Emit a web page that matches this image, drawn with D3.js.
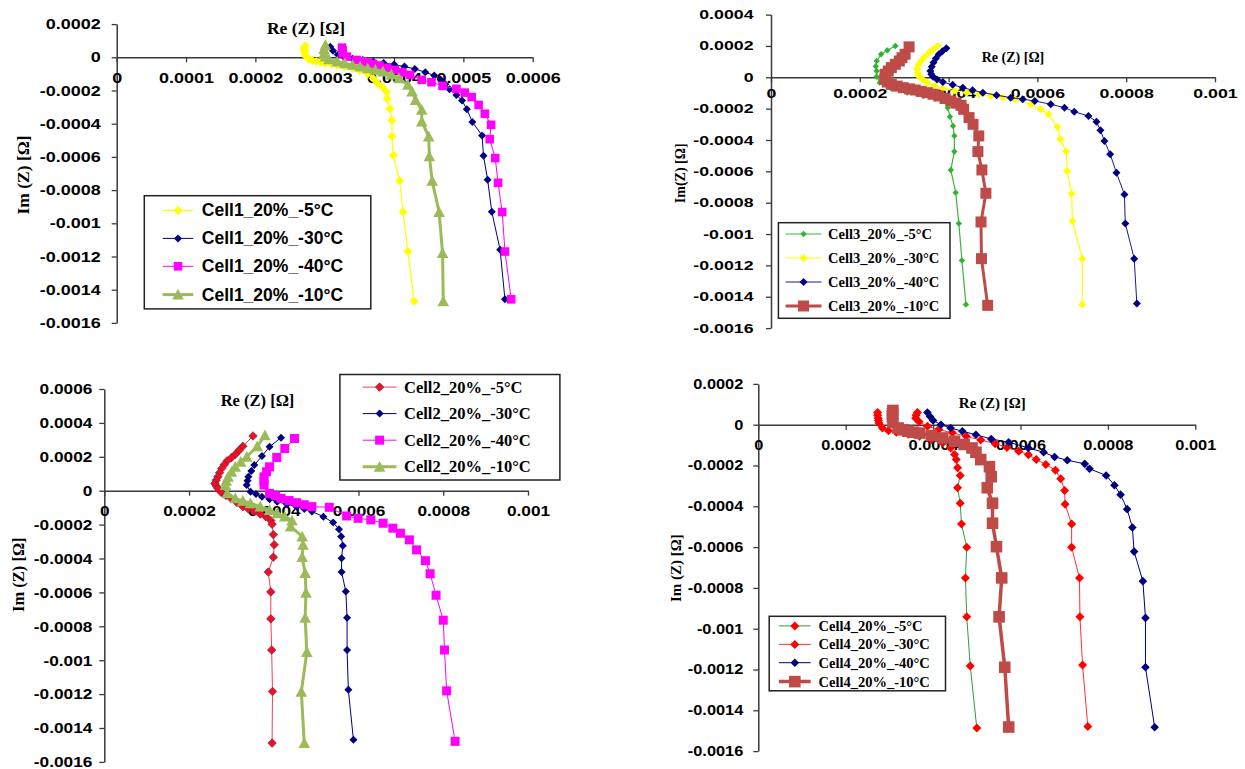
<!DOCTYPE html>
<html><head><meta charset="utf-8">
<script src="https://cdn.jsdelivr.net/npm/d3@7"></script>
<style>html,body{margin:0;padding:0;background:#fff;}svg{display:block;}</style>
</head><body>
<svg id="chart" width="1245" height="769"></svg>
<script>
// ---------------- DATA ----------------
const xTicks1 = [0, 0.0001, 0.0002, 0.0003, 0.0004, 0.0005, 0.0006];
const xTickLabels1 = ["0", "0.0001", "0.0002", "0.0003", "0.0004", "0.0005", "0.0006"];
const xTicksB = [0, 0.0002, 0.0004, 0.0006, 0.0008, 0.001];
const xTickLabelsB = ["0", "0.0002", "0.0004", "0.0006", "0.0008", "0.001"];
const yTicks1 = [0.0002, 0, -0.0002, -0.0004, -0.0006, -0.0008, -0.001, -0.0012, -0.0014, -0.0016];
const yTickLabels1 = ["0.0002", "0", "-0.0002", "-0.0004", "-0.0006", "-0.0008", "-0.001", "-0.0012", "-0.0014", "-0.0016"];
const yTicks2 = [0.0006, 0.0004, 0.0002, 0, -0.0002, -0.0004, -0.0006, -0.0008, -0.001, -0.0012, -0.0014, -0.0016];
const yTickLabels2 = ["0.0006", "0.0004", "0.0002", "0", "-0.0002", "-0.0004", "-0.0006", "-0.0008", "-0.001", "-0.0012", "-0.0014", "-0.0016"];
const yTicks3 = [0.0004, 0.0002, 0, -0.0002, -0.0004, -0.0006, -0.0008, -0.001, -0.0012, -0.0014, -0.0016];
const yTickLabels3 = ["0.0004", "0.0002", "0", "-0.0002", "-0.0004", "-0.0006", "-0.0008", "-0.001", "-0.0012", "-0.0014", "-0.0016"];
const yTicks4 = yTicks1;
const yTickLabels4 = yTickLabels1;

const legend1 = ["Cell1_20%_-5°C", "Cell1_20%_-30°C", "Cell1_20%_-40°C", "Cell1_20%_-10°C"];
const legend2 = ["Cell2_20%_-5°C", "Cell2_20%_-30°C", "Cell2_20%_-40°C", "Cell2_20%_-10°C"];
const legend3 = ["Cell3_20%_-5°C", "Cell3_20%_-30°C", "Cell3_20%_-40°C", "Cell3_20%_-10°C"];
const legend4 = ["Cell4_20%_-5°C", "Cell4_20%_-30°C", "Cell4_20%_-40°C", "Cell4_20%_-10°C"];

// Cell 1  [Re(Z), Im(Z)]
const cell1_m5 = [[0.000272,0.00007],[0.000270,0.000055],[0.000271,0.000044],[0.000271,0.00003],[0.000272,0.000014],[0.000274,0.000002],[0.000277,-0.000012],[0.000282,-0.00002],[0.000288,-0.000026],[0.000295,-0.000031],[0.000301,-0.000036],[0.00031,-0.000041],[0.000318,-0.000046],[0.000328,-0.000055],[0.00034,-0.000066],[0.00035,-0.00008],[0.000362,-0.0001],[0.00037,-0.000128],[0.000376,-0.000156],[0.000383,-0.00018],[0.000389,-0.000207],[0.00039,-0.00025],[0.000394,-0.00031],[0.000397,-0.00038],[0.000397,-0.000477],[0.000399,-0.00059],[0.000408,-0.000744],[0.000413,-0.000932],[0.00042,-0.00117],[0.000429,-0.00147]];
const cell1_m30 = [[0.000308,0.000064],[0.000312,0.00004],[0.000319,0.000016],[0.000328,0.000002],[0.00034,-0.000008],[0.000355,-0.000016],[0.00037,-0.000026],[0.000385,-0.000034],[0.0004,-0.000044],[0.000415,-0.000056],[0.00043,-0.00007],[0.000445,-0.00009],[0.000458,-0.00011],[0.000467,-0.000134],[0.000474,-0.000162],[0.00048,-0.000192],[0.00049,-0.000227],[0.000498,-0.00026],[0.000505,-0.000313],[0.000513,-0.00039],[0.000527,-0.000471],[0.000529,-0.000593],[0.000535,-0.000738],[0.000541,-0.00093],[0.000553,-0.00116],[0.00056,-0.001458]];
const cell1_m40 = [[0.000325,0.000058],[0.000326,0.00004],[0.000326,0.000024],[0.000332,0.000004],[0.000346,-0.000016],[0.000354,-0.000024],[0.000362,-0.000032],[0.00037,-0.000041],[0.000379,-0.00005],[0.00039,-0.000063],[0.000401,-0.000076],[0.000412,-0.00009],[0.000423,-0.000106],[0.00044,-0.000136],[0.000454,-0.00015],[0.00047,-0.000172],[0.00049,-0.00019],[0.000502,-0.000213],[0.000512,-0.00024],[0.000522,-0.000287],[0.000531,-0.00034],[0.00054,-0.000407],[0.000538,-0.000493],[0.000546,-0.000607],[0.00055,-0.000756],[0.000556,-0.000932],[0.00056,-0.00117],[0.000569,-0.001458]];
const cell1_m10 = [[0.000301,0.000074],[0.000299,0.00005],[0.000299,0.000024],[0.000301,0.000005],[0.000306,-0.000012],[0.000318,-0.000026],[0.000329,-0.000036],[0.00034,-0.000046],[0.000351,-0.000056],[0.000362,-0.000066],[0.000373,-0.000076],[0.000384,-0.000086],[0.000396,-0.000104],[0.000407,-0.000126],[0.00042,-0.000166],[0.000426,-0.000207],[0.000431,-0.000257],[0.00044,-0.000317],[0.00044,-0.000387],[0.00045,-0.000477],[0.000451,-0.000597],[0.000455,-0.000744],[0.000465,-0.000932],[0.00047,-0.00118],[0.000471,-0.00147]];

// Cell 3
const cell3_m5 = [[0.00028,0.0002],[0.000262,0.000172],[0.000248,0.000147],[0.000238,0.000104],[0.000236,0.00007],[0.000238,0.00004],[0.000238,0.000004],[0.000245,-0.000034],[0.000271,-0.000072],[0.000307,-0.000098],[0.000343,-0.000119],[0.00037,-0.000136],[0.000392,-0.000151],[0.000398,-0.000194],[0.000403,-0.000251],[0.00041,-0.00031],[0.000413,-0.000374],[0.000413,-0.000474],[0.000405,-0.000591],[0.000416,-0.000736],[0.000423,-0.000932],[0.00043,-0.001168],[0.000439,-0.001449]];
const cell3_m30 = [[0.000376,0.0002],[0.000366,0.00018],[0.000356,0.000157],[0.000346,0.00013],[0.000338,0.000104],[0.000332,0.000078],[0.000329,0.000051],[0.00033,0.000026],[0.000334,0.000004],[0.000342,-0.000016],[0.000352,-0.000034],[0.000368,-0.000054],[0.000387,-0.000072],[0.000414,-0.000086],[0.000441,-0.000098],[0.000468,-0.000108],[0.000495,-0.000119],[0.000522,-0.000129],[0.000549,-0.00014],[0.000585,-0.000172],[0.000607,-0.000204],[0.000625,-0.000236],[0.000645,-0.000317],[0.000652,-0.000396],[0.000665,-0.000474],[0.000667,-0.000598],[0.000677,-0.000743],[0.000679,-0.000917],[0.000701,-0.001157],[0.000701,-0.001449]];
const cell3_m40 = [[0.000395,0.000185],[0.000386,0.000166],[0.000378,0.000147],[0.000371,0.00012],[0.000366,0.000094],[0.000362,0.000067],[0.000359,0.00004],[0.000361,0.00002],[0.000365,0.000004],[0.000374,-0.000014],[0.000387,-0.00003],[0.000409,-0.000048],[0.000432,-0.000066],[0.000454,-0.000082],[0.000477,-0.000098],[0.000508,-0.000114],[0.00054,-0.00013],[0.000567,-0.00014],[0.000594,-0.000151],[0.00063,-0.000172],[0.000661,-0.000194],[0.000683,-0.000219],[0.000715,-0.000247],[0.000733,-0.000283],[0.000742,-0.000338],[0.000751,-0.000406],[0.000764,-0.000491],[0.000778,-0.000609],[0.000796,-0.000747],[0.000798,-0.000932],[0.000818,-0.001157],[0.000824,-0.001443]];
const cell3_m10 = [[0.000311,0.000194],[0.000302,0.000147],[0.000295,0.000125],[0.000289,0.000104],[0.00028,0.000083],[0.000271,0.000062],[0.000264,0.00004],[0.000257,0.000019],[0.000256,-0.000013],[0.000262,-0.00003],[0.000271,-0.000045],[0.000284,-0.000056],[0.000298,-0.000066],[0.000312,-0.000074],[0.000325,-0.000081],[0.000338,-0.00009],[0.000352,-0.000098],[0.000365,-0.000108],[0.000378,-0.000119],[0.000392,-0.000135],[0.000405,-0.000151],[0.000417,-0.000165],[0.000428,-0.000179],[0.000434,-0.000204],[0.000446,-0.000257],[0.000455,-0.0003],[0.000468,-0.000374],[0.000466,-0.000474],[0.000475,-0.000591],[0.000484,-0.00074],[0.000473,-0.000923],[0.000474,-0.001157],[0.000488,-0.001455]];

// Cell 2
const cell2_m5 = [[0.000351,0.000323],[0.000327,0.000262],[0.000318,0.000238],[0.000309,0.000214],[0.0003,0.000195],[0.00029,0.000176],[0.000283,0.000153],[0.000277,0.000131],[0.000272,0.000106],[0.000268,0.000082],[0.000264,0.000062],[0.000261,0.000043],[0.000264,0.000028],[0.000268,0.000014],[0.000276,-0.00001],[0.000287,-0.000028],[0.000299,-0.000045],[0.000313,-0.00007],[0.000327,-0.000094],[0.00034,-0.000108],[0.000354,-0.000123],[0.000368,-0.000138],[0.000381,-0.000153],[0.000393,-0.000176],[0.000396,-0.000198],[0.000399,-0.000259],[0.000401,-0.000319],[0.000399,-0.000392],[0.000387,-0.00048],[0.000393,-0.000597],[0.000393,-0.000756],[0.000395,-0.00094],[0.000397,-0.001185],[0.000396,-0.001489]];
const cell2_m30 = [[0.000417,0.000313],[0.00039,0.000259],[0.000372,0.000204],[0.000354,0.000151],[0.000347,0.000116],[0.00034,0.000082],[0.000338,0.000058],[0.000336,0.000033],[0.000345,-0.000006],[0.000358,-0.00002],[0.000372,-0.000035],[0.00039,-0.00005],[0.000408,-0.000065],[0.000431,-0.00008],[0.000454,-0.000094],[0.000472,-0.000108],[0.00049,-0.000123],[0.000517,-0.000153],[0.00054,-0.000188],[0.000554,-0.000227],[0.000559,-0.00027],[0.000563,-0.000325],[0.00056,-0.000398],[0.00056,-0.00048],[0.00057,-0.000594],[0.000573,-0.00075],[0.000573,-0.00094],[0.000576,-0.001175],[0.000588,-0.001469]];
const cell2_m40 = [[0.000449,0.000308],[0.000426,0.000249],[0.000407,0.000196],[0.00039,0.000141],[0.000383,0.000112],[0.000377,0.000082],[0.000377,0.000058],[0.000377,0.000033],[0.00039,-0.000016],[0.000404,-0.00003],[0.000417,-0.000045],[0.000436,-0.000058],[0.000454,-0.000071],[0.000472,-0.000083],[0.00049,-0.000094],[0.000531,-0.000098],[0.000572,-0.000149],[0.000599,-0.000163],[0.000629,-0.000172],[0.000658,-0.000192],[0.000681,-0.000221],[0.000699,-0.000251],[0.00072,-0.00029],[0.000737,-0.000349],[0.000758,-0.000413],[0.000769,-0.00049],[0.000783,-0.000617],[0.0008,-0.000764],[0.000803,-0.00094],[0.000808,-0.001181],[0.000828,-0.001479]];
const cell2_m10 = [[0.000379,0.000327],[0.000361,0.000262],[0.000336,0.0002],[0.000322,0.00017],[0.000309,0.000141],[0.0003,0.000112],[0.000292,0.000082],[0.000288,0.000058],[0.000286,0.000033],[0.00029,-0.000016],[0.000309,-0.000045],[0.000327,-0.00006],[0.000345,-0.000074],[0.000368,-0.000094],[0.00039,-0.000114],[0.000408,-0.000134],[0.000426,-0.000153],[0.000443,-0.000176],[0.00044,-0.000212],[0.000467,-0.00027],[0.000469,-0.000319],[0.000467,-0.000392],[0.000474,-0.000486],[0.000476,-0.000603],[0.000474,-0.00075],[0.000478,-0.000952],[0.000465,-0.001187],[0.000472,-0.001489]];

// Cell 4
const cell4_m5 = [[0.000273,0.00006],[0.000273,0.000046],[0.000274,0.000032],[0.000275,0.00002],[0.000276,0.000008],[0.000284,-0.000016],[0.000298,-0.00003],[0.000316,-0.000037],[0.000343,-0.000047],[0.000369,-0.000057],[0.000396,-0.000073],[0.000422,-0.000089],[0.00044,-0.000114],[0.000449,-0.000146],[0.000453,-0.000171],[0.000456,-0.000211],[0.000462,-0.000249],[0.000456,-0.000309],[0.000462,-0.000385],[0.000465,-0.000487],[0.000477,-0.000601],[0.000474,-0.000752],[0.000477,-0.000942],[0.000485,-0.001183],[0.0005,-0.001487]];
const cell4_m30 = [[0.000364,0.00006],[0.000361,0.000046],[0.00036,0.000032],[0.000368,0.000014],[0.000387,-0.000008],[0.000413,-0.000024],[0.000444,-0.00004],[0.000476,-0.000057],[0.000509,-0.000075],[0.000542,-0.000093],[0.000569,-0.000112],[0.000596,-0.00013],[0.000618,-0.000147],[0.000636,-0.000171],[0.000658,-0.000195],[0.00068,-0.000223],[0.000692,-0.000265],[0.000701,-0.000322],[0.000702,-0.00039],[0.000717,-0.000487],[0.000717,-0.000601],[0.000735,-0.000752],[0.000736,-0.000942],[0.000742,-0.001178],[0.000754,-0.001479]];
const cell4_m40 = [[0.000387,0.00006],[0.000393,0.00004],[0.0004,0.000021],[0.000418,0],[0.00044,-0.000016],[0.000467,-0.000032],[0.000498,-0.000049],[0.000533,-0.00007],[0.000573,-0.000086],[0.000618,-0.000114],[0.000653,-0.000135],[0.000678,-0.000158],[0.000707,-0.000174],[0.000747,-0.000192],[0.000758,-0.000216],[0.000796,-0.000249],[0.000815,-0.000297],[0.000829,-0.000343],[0.000844,-0.000414],[0.000856,-0.000504],[0.00086,-0.000622],[0.00088,-0.000767],[0.000886,-0.000947],[0.000886,-0.001189],[0.000907,-0.001483]];
const cell4_m10 = [[0.000308,0.00007],[0.000307,0.000055],[0.000307,0.000041],[0.000308,0.000011],[0.00032,-0.000016],[0.000331,-0.000025],[0.000342,-0.000032],[0.000355,-0.000037],[0.000369,-0.000041],[0.000396,-0.000053],[0.000422,-0.000065],[0.000449,-0.000081],[0.000471,-0.000097],[0.000489,-0.000114],[0.000498,-0.000135],[0.000509,-0.000171],[0.000529,-0.000206],[0.000533,-0.000255],[0.000524,-0.000309],[0.000536,-0.000385],[0.000536,-0.000483],[0.000545,-0.000598],[0.000557,-0.000751],[0.000551,-0.000942],[0.000564,-0.001189],[0.000573,-0.001482]];

// ---------------- DRAWING ----------------
const svg = d3.select("#chart");
const SANS = "'Liberation Sans', Arial, sans-serif";
const SERIF = "'Liberation Serif', 'Times New Roman', serif";
const AXIS_COLOR = "#3a3a3a";

function markerPath(type, s) {
  if (type === "diamond") return `M0,${-s}L${s},0L0,${s}L${-s},0Z`;
  if (type === "square") return `M${-s},${-s}H${s}V${s}H${-s}Z`;
  if (type === "triangle") return `M0,${-s}L${s},${s * 0.85}L${-s},${s * 0.85}Z`;
  return "";
}

function drawPanel(p) {
  const g = svg.append("g");
  const x = d3.scaleLinear().domain(p.xDomain).range(p.xRange);
  const y = d3.scaleLinear().domain(p.yDomain).range(p.yRange);

  // y axis
  const ya = g.append("g").attr("transform", `translate(${x(0)},0)`)
    .call(d3.axisLeft(y).tickValues(p.yTicks).tickFormat((d, i) => p.yTickLabels[i]).tickSize(5).tickSizeOuter(0));
  // x axis
  const xa = g.append("g").attr("transform", `translate(0,${y(0)})`)
    .call(d3.axisBottom(x).tickValues(p.xTicks).tickFormat((d, i) => p.xTickLabels[i]).tickSize(5).tickSizeOuter(0).tickPadding(p.xPad));
  [ya, xa].forEach(a => {
    a.select(".domain").attr("stroke", AXIS_COLOR).attr("stroke-width", 1.5);
    a.selectAll(".tick line").attr("stroke", AXIS_COLOR).attr("stroke-width", 1.3);
    a.selectAll("text").attr("fill", "#000").style("font-family", SANS).style("font-weight", "bold").style("font-size", p.tickFont + "px");
  });
  ya.selectAll("text").attr("x", -p.yGap / p.sx).attr("transform", `scale(${p.sx},1)`);
  xa.selectAll("text").attr("transform", `scale(${p.sx},1)`);

  // axis titles
  g.append("text").attr("x", p.xTitle[0]).attr("y", p.xTitle[1]).attr("text-anchor", "middle")
    .style("font-family", SERIF).style("font-weight", "bold").style("font-size", p.titleFont + "px").text("Re (Z) [Ω]");
  g.append("text").attr("transform", `translate(${p.yTitle[0]},${p.yTitle[1]}) rotate(-90)`)
    .attr("text-anchor", "middle").attr("dominant-baseline", "central")
    .style("font-family", SERIF).style("font-weight", "bold").style("font-size", p.titleFont + "px").text(p.yTitleText);

  // series
  const line = d3.line().x(d => x(d[0])).y(d => y(d[1]));
  p.series.forEach(s => {
    g.append("path").datum(s.data).attr("d", line).attr("fill", "none")
      .attr("stroke", s.lineColor).attr("stroke-width", s.lineWidth).attr("stroke-linejoin", "round");
    g.append("g").selectAll("path").data(s.data).join("path")
      .attr("transform", d => `translate(${x(d[0])},${y(d[1])})`)
      .attr("d", markerPath(s.marker, s.size))
      .attr("fill", s.color).attr("stroke", s.stroke || "none").attr("stroke-width", 0.6);
  });

  // legend
  const L = p.legend;
  g.append("rect").attr("x", L.box[0]).attr("y", L.box[1]).attr("width", L.box[2] - L.box[0]).attr("height", L.box[3] - L.box[1])
    .attr("fill", "#fff").attr("stroke", "#222").attr("stroke-width", 1.5);
  p.series.forEach((s, i) => {
    const ry = L.rows[i];
    g.append("line").attr("x1", L.line[0]).attr("x2", L.line[1]).attr("y1", ry).attr("y2", ry)
      .attr("stroke", s.lineColor).attr("stroke-width", s.lineWidth);
    g.append("path").attr("transform", `translate(${(L.line[0] + L.line[1]) / 2},${ry})`)
      .attr("d", markerPath(s.marker, s.size)).attr("fill", s.color).attr("stroke", s.stroke || "none").attr("stroke-width", 0.6);
    g.append("text").attr("x", L.textX).attr("y", ry).attr("dominant-baseline", "central")
      .style("font-family", L.font).style("font-weight", "bold").style("font-size", L.size + "px")
      .text(L.labels[i]);
  });
}

// Panel 1 (top-left)
drawPanel({
  xDomain: [0, 0.0006], xRange: [116.7, 532.7],
  yDomain: [-0.0016, 0.0002], yRange: [322.9, 24.1],
  xTicks: xTicks1, xTickLabels: xTickLabels1, yTicks: yTicks1, yTickLabels: yTickLabels1,
  tickFont: 14.5, sx: 1.24, yGap: 16, xPad: 10,
  titleFont: 17.5, xTitle: [306, 33.5], yTitle: [23, 175], yTitleText: "Im (Z) [Ω]",
  series: [
    {data: cell1_m5, color: "#FFFF00", lineColor: "#FFFF00", lineWidth: 1.2, marker: "diamond", size: 4.5},
    {data: cell1_m30, color: "#000080", lineColor: "#000080", lineWidth: 1, marker: "diamond", size: 4},
    {data: cell1_m40, color: "#FF00FF", lineColor: "#FF00FF", lineWidth: 1, marker: "square", size: 4.3},
    {data: cell1_m10, color: "#9BBB59", lineColor: "#9BBB59", lineWidth: 3, marker: "triangle", size: 5.8}
  ],
  legend: {box: [144.3, 195.7, 370.8, 308.9], rows: [210.4, 238.4, 266.3, 294.6], line: [162.7, 193.3], textX: 201.8,
    font: SANS, size: 17.5, labels: legend1}
});

// Panel 3 (top-right)
drawPanel({
  xDomain: [0, 0.001], xRange: [771, 1215],
  yDomain: [-0.0016, 0.0004], yRange: [328.1, 14.6],
  xTicks: xTicksB, xTickLabels: xTickLabelsB, yTicks: yTicks3, yTickLabels: yTickLabels3,
  tickFont: 12.5, sx: 1.42, yGap: 17.5, xPad: 7,
  titleFont: 14, xTitle: [1013, 61.7], yTitle: [680, 173.3], yTitleText: "Im(Z) [Ω]",
  series: [
    {data: cell3_m5, color: "#2DB52D", lineColor: "#3CB43C", lineWidth: 1.2, marker: "diamond", size: 3.2},
    {data: cell3_m30, color: "#FFFF00", lineColor: "#FFFF00", lineWidth: 1.2, marker: "diamond", size: 4},
    {data: cell3_m40, color: "#000080", lineColor: "#1a1a8a", lineWidth: 1, marker: "diamond", size: 4},
    {data: cell3_m10, color: "#BE4B48", lineColor: "#BE4B48", lineWidth: 3, marker: "square", size: 5.5}
  ],
  legend: {box: [778.4, 222.7, 950, 318.3], rows: [234, 258, 282, 306], line: [785.6, 821.5], textX: 828,
    font: SERIF, size: 14.5, labels: legend3}
});

// Panel 2 (bottom-left)
drawPanel({
  xDomain: [0, 0.001], xRange: [104.3, 528],
  yDomain: [-0.0016, 0.0006], yRange: [761.9, 389],
  xTicks: xTicksB, xTickLabels: xTickLabelsB, yTicks: yTicks2, yTickLabels: yTickLabels2,
  tickFont: 15, sx: 1.15, yGap: 12, xPad: 10,
  titleFont: 16.5, xTitle: [257.5, 406.4], yTitle: [18, 574.7], yTitleText: "Im (Z) [Ω]",
  series: [
    {data: cell2_m5, color: "#EE1122", lineColor: "#F04050", lineWidth: 1, marker: "diamond", size: 4.3, stroke: "#702050"},
    {data: cell2_m30, color: "#000080", lineColor: "#000080", lineWidth: 1, marker: "diamond", size: 4},
    {data: cell2_m40, color: "#FF00FF", lineColor: "#FF00FF", lineWidth: 1, marker: "square", size: 4.5},
    {data: cell2_m10, color: "#9BBB59", lineColor: "#9BBB59", lineWidth: 3, marker: "triangle", size: 5.8}
  ],
  legend: {box: [339.9, 374.5, 559.9, 480], rows: [387.1, 413.6, 440.2, 466.8], line: [362.7, 396.5], textX: 404,
    font: SERIF, size: 16.5, labels: legend2}
});

// Panel 4 (bottom-right)
drawPanel({
  xDomain: [0, 0.001], xRange: [758.3, 1195.3],
  yDomain: [-0.0016, 0.0002], yRange: [751.1, 383.9],
  xTicks: xTicksB, xTickLabels: xTickLabelsB, yTicks: yTicks4, yTickLabels: yTickLabels4,
  tickFont: 14, sx: 1.17, yGap: 15, xPad: 10,
  titleFont: 15, xTitle: [992.3, 408.1], yTitle: [676, 568.2], yTitleText: "Im (Z) [Ω]",
  series: [
    {data: cell4_m5, color: "#FF0000", lineColor: "#2E9E3E", lineWidth: 1, marker: "diamond", size: 4.5},
    {data: cell4_m30, color: "#FF0000", lineColor: "#FF3030", lineWidth: 1, marker: "diamond", size: 4.5},
    {data: cell4_m40, color: "#000080", lineColor: "#000080", lineWidth: 1, marker: "diamond", size: 4.3},
    {data: cell4_m10, color: "#BE4B48", lineColor: "#BE4B48", lineWidth: 3.5, marker: "square", size: 5.8}
  ],
  legend: {box: [769.2, 616.3, 945.5, 690.8], rows: [625.9, 644.4, 662.7, 681.6], line: [778.9, 810.7], textX: 818.5,
    font: SERIF, size: 14.5, labels: legend4}
});
</script>
</body></html>
